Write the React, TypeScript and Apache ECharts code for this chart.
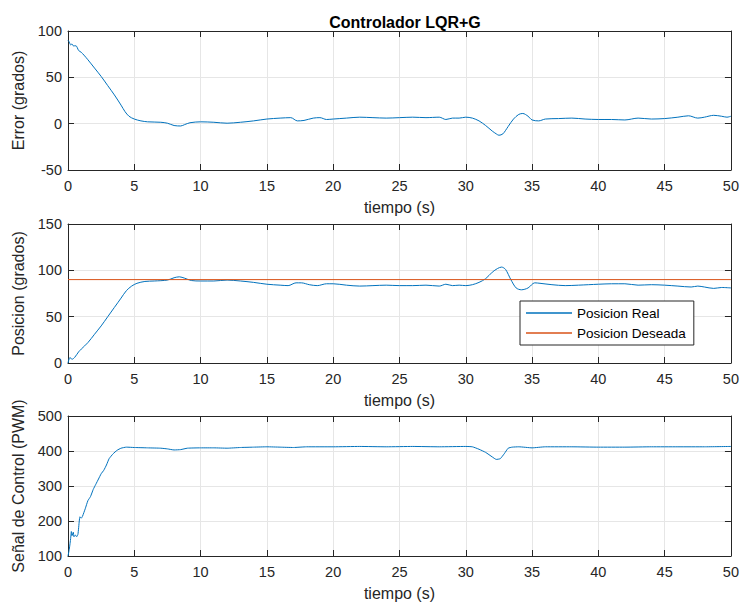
import React, { useEffect, useRef } from "react";
import * as echarts from "echarts";

const titleText = "Controlador LQR+G";
const xLabel = "tiempo (s)";
const yLabels = ["Error (grados)", "Posicion (grados)", "Señal de Control (PWM)"];
const legendNames = ["Posicion Real", "Posicion Deseada"];

const errorData: [number, number][] = [
  [0, 90], [0.1, 88], [0.2, 85], [0.3, 86], [0.4, 84], [0.6, 84], [0.8, 79], [1, 77], [1.2, 74],
  [1.5, 69], [2, 60], [2.5, 51], [3, 41], [3.5, 31], [4, 20], [4.3, 13], [4.6, 8], [5, 5],
  [5.5, 3], [6, 2], [7, 1.5], [7.5, 0.5], [8, -2], [8.5, -2.5], [8.8, -1], [9.2, 1], [10, 2],
  [11, 1.5], [12, 0.5], [13, 1.5], [14, 3], [15, 5], [16, 6], [16.8, 6.5], [17.3, 3], [17.8, 3.5],
  [18.5, 6], [19, 6.5], [19.5, 4.5], [20, 5], [21, 6], [22, 7], [23, 6.5], [24, 6], [25, 6.5],
  [26, 7], [27, 6.5], [28, 7], [28.5, 4.5], [29, 6], [29.5, 6], [30, 7], [30.5, 6], [31, 3],
  [31.5, -2], [32, -8], [32.3, -11], [32.5, -12.5], [32.8, -11], [33.2, -3], [33.6, 5], [34, 10],
  [34.3, 11], [34.7, 8], [35, 4], [35.5, 3], [36, 5], [37, 5.5], [38, 6], [39, 5], [40, 4.5],
  [41, 4.5], [42, 4], [43, 6], [44, 5], [45, 5.5], [46, 7], [46.8, 8.5], [47.5, 6], [48, 7],
  [48.7, 9], [49.3, 8], [49.7, 7], [50, 8],
];

const positionData: [number, number][] = [
  [0, 0], [0.15, 6], [0.3, 4], [0.5, 6], [0.8, 12], [1, 15], [1.5, 22], [2, 31], [2.5, 40],
  [3, 50], [3.5, 60], [4, 70], [4.4, 78], [4.8, 83], [5.2, 86], [5.8, 88], [6.5, 88.5],
  [7.5, 89.5], [8, 92], [8.4, 93], [8.8, 91.5], [9.3, 89], [10, 88.5], [11, 88.5], [12, 89.5],
  [13, 88.5], [14, 87], [15, 85], [16, 84], [16.6, 83.5], [17.2, 86.5], [17.6, 86.5], [18.2, 84.5],
  [18.8, 83.5], [19.5, 85.5], [20, 85.5], [21, 84], [22, 83], [23, 83.5], [24, 84], [25, 83.5],
  [26, 83.5], [27, 84], [28, 83], [28.5, 85], [29, 83.5], [29.5, 84], [30, 83.5], [30.5, 84.5],
  [31, 87], [31.5, 91], [32, 98], [32.4, 102], [32.7, 103.5], [33, 101], [33.4, 90], [33.8, 81],
  [34.2, 79], [34.7, 81], [35.2, 86.5], [35.6, 86], [36.5, 84.5], [37.5, 83.5], [38.5, 84],
  [40, 85], [41, 85.5], [42, 85.5], [43, 84], [44, 84.5], [45, 84], [46, 83], [47, 82],
  [47.5, 83], [48, 82], [48.7, 80.5], [49.3, 81.5], [50, 81],
];

const desiredData: [number, number][] = [[0, 90], [50, 90]];

const controlData: [number, number][] = [
  [0, 100], [0.1, 120], [0.2, 150], [0.25, 170], [0.3, 158], [0.4, 168], [0.45, 155], [0.55, 160],
  [0.65, 155], [0.75, 162], [0.85, 200], [0.9, 212], [1.0, 208], [1.1, 214], [1.3, 235],
  [1.5, 258], [1.7, 270], [1.9, 290], [2.1, 305], [2.3, 320], [2.5, 335], [2.7, 345], [2.9, 360],
  [3.1, 378], [3.4, 392], [3.7, 402], [4.0, 408], [4.4, 411], [5, 410], [6, 409], [7, 408],
  [7.5, 406], [8, 403], [8.5, 404], [9, 408], [10, 409], [11, 409], [12, 408], [13, 410],
  [14, 411], [15, 412], [16, 411], [17, 410], [18, 412], [20, 412], [22, 413], [24, 412],
  [26, 413], [28, 412], [30, 413], [30.5, 412], [31, 405], [31.5, 396], [32, 383], [32.3, 376],
  [32.6, 378], [32.9, 392], [33.2, 408], [33.5, 411], [34, 412], [35, 409], [36, 412], [38, 412],
  [40, 411], [42, 411], [44, 412], [46, 412], [48, 412], [50, 413],
];

const yRanges = [
  { min: -50, max: 100, interval: 50 },
  { min: 0, max: 150, interval: 50 },
  { min: 100, max: 500, interval: 100 },
];

const BLUE = "#0072BD";
const ORANGE = "#D95319";
const AX = "#262626";
const GRIDC = "#e6e6e6";
const FONT = "'Liberation Sans', Arial, Helvetica, sans-serif";

export default function App() {
  const ref = useRef<HTMLDivElement>(null);
  useEffect(() => {
    if (!ref.current) return;
    const chart = echarts.init(ref.current, null, { renderer: "svg" });
    const tops = [31, 224, 416];
    const heights = [139, 139, 140];
    const grids = tops.map((t, i) => ({
      left: 68, top: t, width: 665, height: heights[i], show: false, containLabel: false,
    }));
    const xAxes: any[] = [];
    const yAxes: any[] = [];
    for (let i = 0; i < 3; i++) {
      xAxes.push({
        type: "value", gridIndex: i, min: 0, max: 50, interval: 5, position: "bottom",
        name: xLabel, nameLocation: "middle", nameGap: 29,
        nameTextStyle: { color: AX, fontSize: 16, fontFamily: FONT },
        axisLine: { show: true, onZero: false, lineStyle: { color: AX, width: 1 } },
        axisTick: { show: true, inside: true, length: 6, lineStyle: { color: AX } },
        axisLabel: { color: AX, fontSize: 14.5, fontFamily: FONT, margin: 8 },
        splitLine: { show: true, lineStyle: { color: GRIDC, width: 1 } },
      });
    }
    for (let i = 0; i < 3; i++) {
      xAxes.push({
        type: "value", gridIndex: i, min: 0, max: 50, interval: 5, position: "top",
        axisLine: { show: true, onZero: false, lineStyle: { color: AX, width: 1 } },
        axisTick: { show: true, inside: true, length: 6, lineStyle: { color: AX } },
        axisLabel: { show: false }, splitLine: { show: false },
      });
    }
    for (let i = 0; i < 3; i++) {
      yAxes.push({
        type: "value", gridIndex: i, ...yRanges[i], position: "left",
        name: yLabels[i], nameLocation: "middle", nameGap: 40, nameRotate: 90,
        nameTextStyle: { color: AX, fontSize: 16, fontFamily: FONT },
        axisLine: { show: true, onZero: false, lineStyle: { color: AX, width: 1 } },
        axisTick: { show: true, inside: true, length: 6, lineStyle: { color: AX } },
        axisLabel: { color: AX, fontSize: 14.5, fontFamily: FONT, margin: 6 },
        splitLine: { show: true, lineStyle: { color: GRIDC, width: 1 } },
      });
    }
    for (let i = 0; i < 3; i++) {
      yAxes.push({
        type: "value", gridIndex: i, ...yRanges[i], position: "right",
        axisLine: { show: true, onZero: false, lineStyle: { color: AX, width: 1 } },
        axisTick: { show: true, inside: true, length: 6, lineStyle: { color: AX } },
        axisLabel: { show: false }, splitLine: { show: false },
      });
    }
    const lineBase = { type: "line", showSymbol: false, symbol: "none", smooth: 0.3 };
    chart.setOption({
      animation: false,
      backgroundColor: "#ffffff",
      title: {
        text: titleText, left: 400, top: 9, textAlign: "center",
        textStyle: { fontSize: 16, fontWeight: "bold", color: "#000", fontFamily: FONT },
      },
      grid: grids,
      xAxis: xAxes,
      yAxis: yAxes,
      legend: {
        data: legendNames.map((n) => ({ name: n, icon: "rect" })),
        orient: "vertical",
        left: 520, top: 301,
        padding: [5, 8, 5, 6],
        itemWidth: 46, itemHeight: 1.5, itemGap: 6,
        backgroundColor: "#ffffff",
        borderColor: AX, borderWidth: 1, borderRadius: 0,
        textStyle: { color: "#000", fontSize: 13.5, fontFamily: FONT },
      },
      series: [
        { ...lineBase, name: "Error", xAxisIndex: 0, yAxisIndex: 0, data: errorData,
          lineStyle: { color: BLUE, width: 1 }, itemStyle: { color: BLUE } },
        { ...lineBase, name: legendNames[0], xAxisIndex: 1, yAxisIndex: 1, data: positionData,
          lineStyle: { color: BLUE, width: 1 }, itemStyle: { color: BLUE } },
        { ...lineBase, name: legendNames[1], xAxisIndex: 1, yAxisIndex: 1, data: desiredData, smooth: false,
          lineStyle: { color: ORANGE, width: 1 }, itemStyle: { color: ORANGE } },
        { ...lineBase, name: "Control", xAxisIndex: 2, yAxisIndex: 2, data: controlData, smooth: 0.15,
          lineStyle: { color: BLUE, width: 1 }, itemStyle: { color: BLUE } },
      ],
    });
    return () => chart.dispose();
  }, []);
  return <div ref={ref} style={{ width: 742, height: 610, position: "absolute", left: 0, top: 0 }} />;
}
